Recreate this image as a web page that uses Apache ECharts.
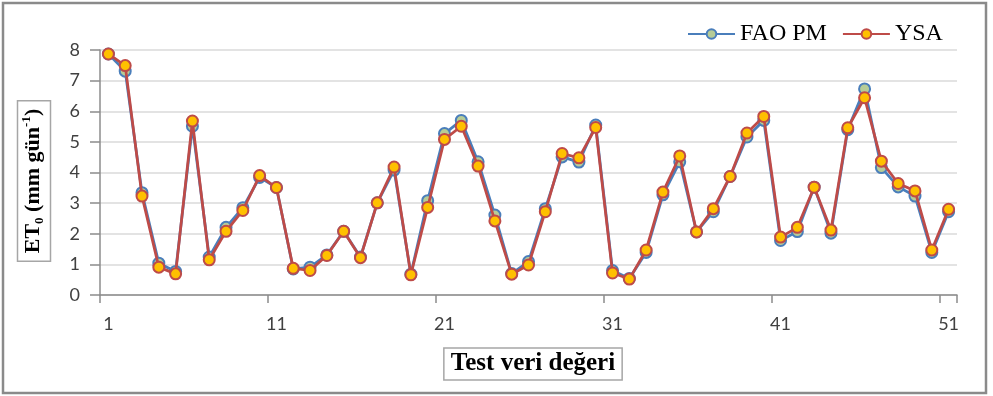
<!DOCTYPE html>
<html>
<head>
<meta charset="utf-8">
<script src="https://cdn.jsdelivr.net/npm/echarts@6/dist/echarts.min.js"></script>
<style>
  html, body { margin: 0; padding: 0; background: #fff; }
  #chart { width: 993px; height: 396px; }
</style>
</head>
<body>
<div id="chart"></div>
<script>
// Test sample numbers 1..51
const categories = Array.from({ length: 51 }, (_, i) => String(i + 1));

// Reference ET0 from the FAO Penman-Monteith equation (mm/day)
const faoPM = [
  7.87, 7.31, 3.34, 1.04, 0.77, 5.51, 1.24, 2.21, 2.85, 3.84,
  3.51, 0.85, 0.91, 1.31, 2.08, 1.24, 3.01, 4.08, 0.68, 3.08,
  5.27, 5.70, 4.35, 2.61, 0.70, 1.09, 2.82, 4.51, 4.34, 5.55,
  0.80, 0.54, 1.39, 3.27, 4.35, 2.06, 2.72, 3.87, 5.16, 5.70,
  1.78, 2.07, 3.52, 2.02, 5.40, 6.73, 4.16, 3.53, 3.23, 1.39,
  2.72
];

// ANN (YSA) estimates for the same samples (mm/day)
const ysa = [
  7.87, 7.49, 3.23, 0.91, 0.69, 5.68, 1.15, 2.08, 2.76, 3.90,
  3.51, 0.87, 0.80, 1.29, 2.08, 1.22, 3.01, 4.18, 0.66, 2.86,
  5.08, 5.51, 4.21, 2.42, 0.68, 0.98, 2.72, 4.62, 4.48, 5.47,
  0.72, 0.52, 1.47, 3.36, 4.54, 2.06, 2.82, 3.87, 5.29, 5.83,
  1.89, 2.21, 3.52, 2.12, 5.46, 6.44, 4.37, 3.64, 3.40, 1.47,
  2.80
];

// Value axis ticks
const yTicks = [0, 1, 2, 3, 4, 5, 6, 7, 8];

const chart = echarts.init(document.getElementById('chart'), null, { renderer: 'canvas' });

const labelFont = 'Lato, "Liberation Sans", sans-serif';
const serif = '"Liberation Serif", "Times New Roman", serif';
const everyTenth = (index) => index % 10 === 0;

chart.setOption({
  animation: false,
  backgroundColor: '#ffffff',
  grid: { left: 100, right: 36, top: 50, bottom: 101 },
  legend: {
    left: 682,
    top: 17,
    itemWidth: 47,
    itemHeight: 12,
    itemGap: 15,
    textStyle: { fontFamily: serif, fontSize: 24, color: '#000' },
    data: ['FAO PM', 'YSA']
  },
  xAxis: {
    type: 'category',
    data: categories,
    boundaryGap: true,
    axisLine: { lineStyle: { color: '#8c8c8c', width: 1.5 } },
    axisTick: { show: true, interval: everyTenth, length: 8, lineStyle: { color: '#8c8c8c', width: 1.5 } },
    axisLabel: { interval: everyTenth, margin: 20, fontFamily: labelFont, fontSize: 18, color: '#404040' },
    splitLine: { show: false }
  },
  yAxis: {
    type: 'value',
    min: yTicks[0],
    max: yTicks[yTicks.length - 1],
    interval: 1,
    axisLine: { show: true, lineStyle: { color: '#8c8c8c', width: 1.5 } },
    axisTick: { show: true, length: 10, lineStyle: { color: '#8c8c8c', width: 1.5 } },
    axisLabel: { margin: 20, fontFamily: labelFont, fontSize: 18, color: '#404040' },
    splitLine: { lineStyle: { color: '#dadada', width: 1.5 } }
  },
  series: [
    {
      name: 'FAO PM',
      type: 'line',
      data: faoPM,
      symbol: 'circle',
      symbolSize: 11,
      lineStyle: { color: '#4a7ebb', width: 2.75 },
      itemStyle: { color: '#b6cc97', borderColor: '#4a7ebb', borderWidth: 2 },
      z: 2
    },
    {
      name: 'YSA',
      type: 'line',
      data: ysa,
      symbol: 'circle',
      symbolSize: 11,
      lineStyle: { color: '#be4b48', width: 2.75 },
      itemStyle: { color: '#ffc000', borderColor: '#be4b48', borderWidth: 2 },
      z: 3
    }
  ],
  graphic: [
    {
      type: 'rect',
      shape: { x: 3, y: 3, width: 983, height: 390 },
      style: { fill: null, stroke: '#8a8a8a', lineWidth: 2.5 },
      silent: true
    },
    {
      type: 'text',
      x: 34,
      y: 181,
      rotation: Math.PI / 2,
      style: {
        text: '{a|ET}{sub|0}{a| (mm gün}{sup|-1}{a|)}',
        align: 'center',
        verticalAlign: 'middle',
        borderColor: '#a6a6a6',
        borderWidth: 1.5,
        padding: [3, 8, 4, 8],
        rich: {
          a: { fontFamily: serif, fontWeight: 'bold', fontSize: 22, lineHeight: 26, fill: '#000' },
          sub: { fontFamily: serif, fontWeight: 'bold', fontSize: 13, lineHeight: 26, verticalAlign: 'bottom', fill: '#000' },
          sup: { fontFamily: serif, fontWeight: 'bold', fontSize: 13, lineHeight: 26, verticalAlign: 'top', fill: '#000' }
        }
      }
    },
    {
      type: 'text',
      x: 533,
      y: 364,
      style: {
        text: 'Test veri değeri',
        align: 'center',
        verticalAlign: 'middle',
        fontFamily: serif,
        fontWeight: 'bold',
        fontSize: 25,
        fill: '#000',
        borderColor: '#a6a6a6',
        borderWidth: 1.5,
        padding: [4, 7, 3, 7]
      }
    }
  ]
});
</script>
</body>
</html>
